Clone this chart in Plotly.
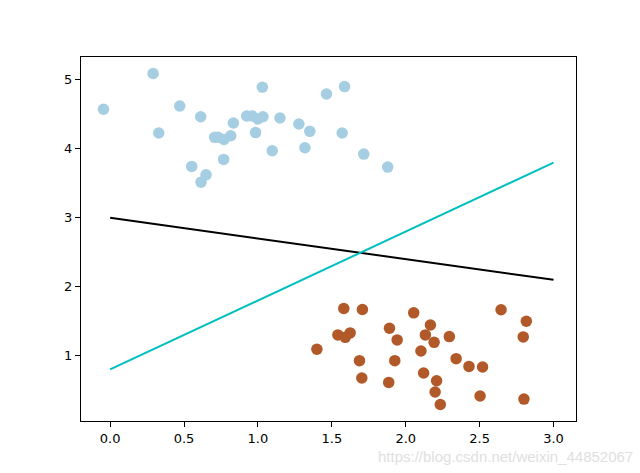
import plotly.graph_objects as go

blue_x = [-0.045, 0.291, 0.329, 0.471, 0.552, 0.613, 0.615, 0.649, 0.707, 0.730,
          0.770, 0.768, 0.816, 0.834, 0.924, 0.961, 0.984, 1.000, 1.034, 1.030,
          1.097, 1.149, 1.277, 1.318, 1.351, 1.464, 1.586, 1.570, 1.716, 1.878]
blue_y = [4.574, 5.092, 4.229, 4.622, 3.745, 4.466, 3.516, 3.623, 4.167, 4.167,
          4.137, 3.847, 4.190, 4.375, 4.476, 4.476, 4.236, 4.433, 4.466, 4.894,
          3.972, 4.447, 4.360, 4.015, 4.254, 4.796, 4.903, 4.229, 3.924, 3.735]

brown_x = [1.581, 1.707, 2.054, 1.541, 1.591, 1.624, 1.399, 1.890, 1.942, 1.687,
           1.926, 1.703, 1.885, 2.103, 2.133, 2.167, 2.121, 2.645, 2.816, 2.795,
           2.192, 2.295, 2.341, 2.428, 2.520, 2.209, 2.199, 2.234, 2.503, 2.800]
brown_y = [1.684, 1.669, 1.621, 1.301, 1.266, 1.330, 1.092, 1.397, 1.228, 0.927,
           0.927, 0.676, 0.612, 1.068, 1.301, 1.444, 0.748, 1.665, 1.499, 1.272,
           1.193, 1.276, 0.956, 0.844, 0.836, 0.636, 0.472, 0.292, 0.414, 0.370]

xfit = [0.0, 3.0]
black_y = [3.0, 2.1]
cyan_y = [0.8, 3.8]

x_ticks = [0.0, 0.5, 1.0, 1.5, 2.0, 2.5, 3.0]
x_tick_labels = ["0.0", "0.5", "1.0", "1.5", "2.0", "2.5", "3.0"]
y_ticks = [1, 2, 3, 4, 5]
y_tick_labels = ["1", "2", "3", "4", "5"]

fig = go.Figure()
fig.add_trace(go.Scatter(x=blue_x, y=blue_y, mode="markers",
                         marker=dict(size=11.5, color="#a6cee3"), showlegend=False))
fig.add_trace(go.Scatter(x=brown_x, y=brown_y, mode="markers",
                         marker=dict(size=11.5, color="#b15928"), showlegend=False))
fig.add_trace(go.Scatter(x=xfit, y=black_y, mode="lines",
                         line=dict(color="black", width=2), showlegend=False))
fig.add_trace(go.Scatter(x=xfit, y=cyan_y, mode="lines",
                         line=dict(color="#00bfbf", width=2), showlegend=False))

axis_common = dict(showgrid=False, zeroline=False, showline=True, linecolor="black",
                   linewidth=1, mirror=True, ticks="outside", ticklen=5,
                   tickcolor="black", tickwidth=1,
                   tickfont=dict(family="DejaVu Sans", size=13, color="black"))

fig.update_xaxes(range=[-0.197, 3.152], tickvals=x_ticks, ticktext=x_tick_labels, **axis_common)
fig.update_yaxes(range=[0.052, 5.332], tickvals=y_ticks, ticktext=y_tick_labels, **axis_common)

fig.add_annotation(text="https://blog.csdn.net/weixin_44852067", xref="paper", yref="paper",
                   x=1.12, y=-0.07, xanchor="right", yanchor="top", showarrow=False,
                   font=dict(family="Liberation Sans", size=15, color="#e0e0e0"))

fig.update_layout(width=640, height=473, margin=dict(l=81, r=64, t=57, b=52),
                  plot_bgcolor="white", paper_bgcolor="white")

fig.write_html("out.html")
